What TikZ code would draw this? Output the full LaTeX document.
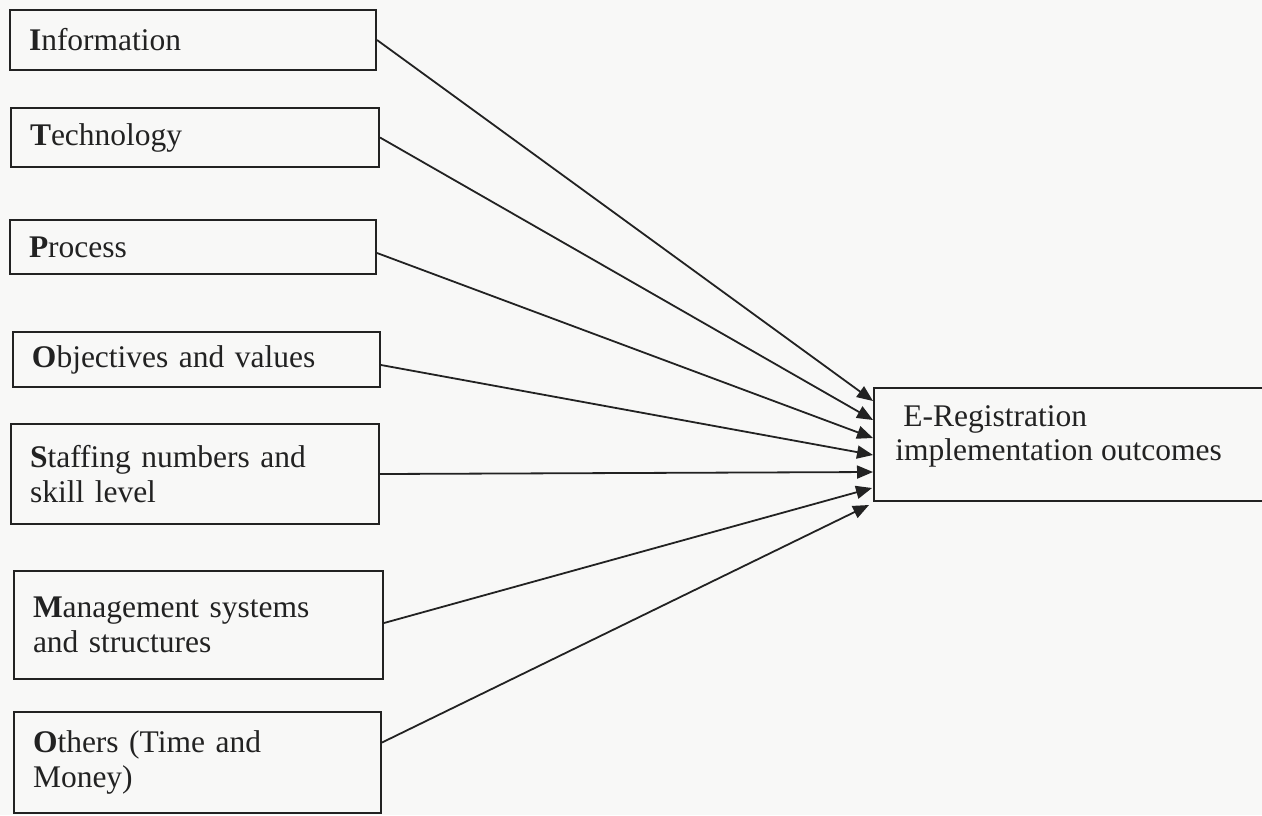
\documentclass[tikz,border=0pt]{standalone}
\usepackage{fontspec}
\setmainfont{Liberation Serif}
\usetikzlibrary{arrows.meta,calc}
\definecolor{bg}{HTML}{F8F8F7}
\definecolor{ink}{HTML}{222222}
\begin{document}
\begin{tikzpicture}[x=0.5pt,y=-0.5pt,
  lbox/.style={draw=ink, line width=1pt, rectangle, anchor=north west,
    inner xsep=9.5pt, inner ysep=0pt, align=left, text=ink,
    font=\fontsize{15.75pt}{17.5pt}\selectfont},
  erbox/.style={draw=ink, line width=1pt, rectangle, anchor=north west,
    minimum width=220pt, minimum height=56.5pt, inner sep=0pt},
  conn/.style={draw=ink, line width=0.9pt, -{Triangle[length=8pt,width=6.5pt]}}]
\fill[bg] (0,0) rectangle (1262,815);
\clip (0,0) rectangle (1262,815);

\node[lbox, minimum width=183pt, minimum height=30pt, text width=164pt] (info) at (9,9) {\textbf{I}nformation};
\node[lbox, minimum width=184pt, minimum height=29.5pt, text width=165pt] (tech) at (10,107) {\textbf{T}echnology};
\node[lbox, minimum width=183pt, minimum height=27pt, text width=164pt] (proc) at (9,219) {\textbf{P}rocess};
\node[lbox, minimum width=183.5pt, minimum height=27.5pt, text width=164.5pt] (obj) at (12,331) {\textbf{O}bjectives and values};
\node[lbox, minimum width=184pt, minimum height=50pt, text width=165pt] (staff) at (10,423) {\textbf{S}taffing numbers and\\skill level};
\node[lbox, minimum width=184.5pt, minimum height=54pt, text width=165.5pt] (mgmt) at (13,570) {\textbf{M}anagement systems\\and structures};
\node[lbox, minimum width=183.5pt, minimum height=50.5pt, text width=164.5pt] (others) at (13,711) {\textbf{O}thers (Time and\\Money)};

\node[erbox] (er) at (873,387) {};
\node[anchor=base west, inner sep=0pt, align=left, text=ink,
  font=\fontsize{15.75pt}{17pt}\selectfont] (ertext) at (895,460)
  {\hspace*{4pt}E-Registration\\implementation outcomes};

\coordinate (e1) at ($(er.north west)+(0,14)$);
\coordinate (e2) at ($(er.north west)+(0,33)$);
\coordinate (e3) at ($(er.north west)+(0,51)$);
\coordinate (e4) at ($(er.north west)+(0,68)$);
\coordinate (e5) at ($(er.north west)+(0,85)$);
\coordinate (e6) at ($(er.north west)+(-1,101)$);
\coordinate (e7) at ($(er.north west)+(-4,118)$);

\draw[conn] (info.east) -- (e1);
\draw[conn] (tech.east) -- (e2);
\draw[conn] ($(proc.east)+(0,6)$) -- (e3);
\draw[conn] ($(obj.east)+(0,5.5)$) -- (e4);
\draw[conn] (staff.east) -- (e5);
\draw[conn] ($(mgmt.east)+(0,-2)$) -- (e6);
\draw[conn] ($(others.east)+(0,-20)$) -- (e7);
\end{tikzpicture}
\end{document}
